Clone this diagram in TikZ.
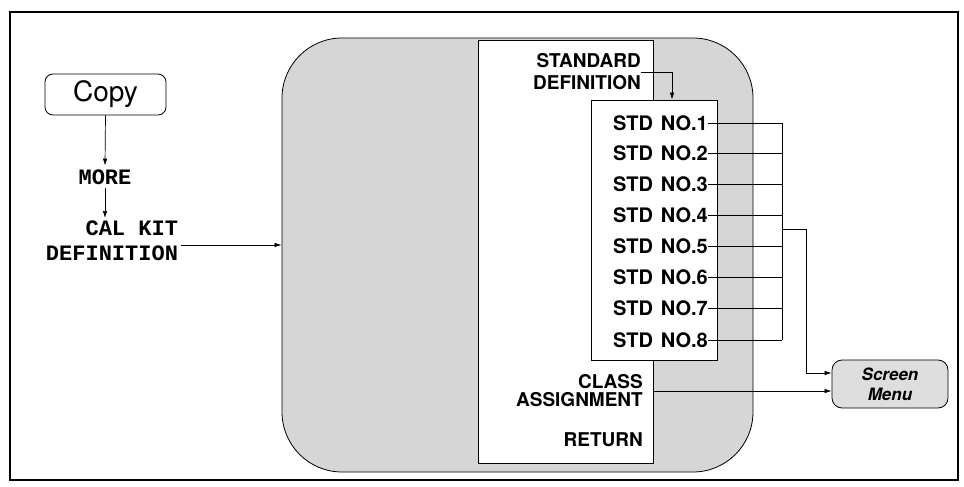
\documentclass[tikz,border=0pt]{standalone}
\usepackage{fontspec}
\setmainfont{TeX Gyre Heros}
\newfontfamily\monof{Liberation Mono}
\usetikzlibrary{arrows.meta}
\tikzset{
  frame/.style={draw, line width=1.2pt},
  graybox/.style={draw, fill=black!16, rounded corners=60pt, line width=0.8pt, inner sep=0pt},
  panelbox/.style={draw, fill=white, line width=0.8pt, inner sep=0pt},
  copybox/.style={draw, fill=white, rounded corners=8pt, line width=0.8pt, minimum width=121pt, minimum height=41pt, font=\fontsize{28}{30}\selectfont, inner sep=0pt},
  smbox/.style={draw, fill=black!13, rounded corners=10pt, line width=0.8pt, minimum width=116pt, minimum height=48pt, inner sep=0pt, align=center, font=\bfseries\itshape\fontsize{17}{20}\selectfont},
  lbl/.style={font=\bfseries\fontsize{19}{22}\selectfont, inner sep=0pt, align=right},
  stdlbl/.style={font=\bfseries\fontsize{20}{22}\selectfont, inner sep=0pt},
  mono/.style={font=\monof\bfseries\fontsize{22}{25}\selectfont, inner sep=0pt, align=right},
  conn/.style={draw, line width=0.7pt},
  arr/.style={conn, -{Latex[length=7pt,width=4.5pt]}}
}
\begin{document}
\begin{tikzpicture}[x=1pt,y=-1pt]
\useasboundingbox (0,0) rectangle (964,487);
\draw[frame] (10,12) rectangle (958,480);

% left chain
\node[copybox] (copy) at (105.5,94.5) {Copy};
\node[mono, outer sep=4pt] (more) at (105,177) {MORE};
\node[mono, anchor=east, outer sep=3pt] (cal) at (181,241) {CAL KIT\\DEFINITION};
\draw[arr] (copy.south) -- (more.north);
\draw[arr] (more.south) -- (more.south |- cal.north);

% big gray shape and panels
\node[graybox, minimum width=471pt, minimum height=434pt] (gray) at (517.5,255) {};
\draw[arr] ([yshift=-4pt]cal.east) -- ([yshift=-4pt]cal.east -| gray.west);
\node[panelbox, minimum width=175pt, minimum height=423pt] (panel) at (565.5,251.5) {};
\node[panelbox, minimum width=126pt, minimum height=260pt] (stdbox) at (654,230) {};

\node[lbl, anchor=east] (sd) at (641,72) {STANDARD\\DEFINITION};
\draw[arr] (sd.east) -- (672,0 |- sd.east) -- (672,0 |- stdbox.north);

\coordinate (busx) at (782,0);
\foreach \i/\y in {1/123,2/153,3/184,4/215,5/246,6/277,7/308,8/340}{
  \node[stdlbl, anchor=east] (s\i) at (708,\y) {STD\hspace{8pt}NO.\i};
  \draw[conn] (s\i.east) -- (s\i.east -| busx);
}
\draw[conn] (s1.east -| busx) -- (s8.east -| busx);

\node[lbl, anchor=east, font=\bfseries\fontsize{19}{18}\selectfont] (cls) at (643,391) {CLASS\\ASSIGNMENT};
\node[lbl, anchor=east] (ret) at (643,440) {RETURN};

% screen menu
\node[smbox] (sm) at (890,384) {Screen\\Menu};
\coordinate (tap) at (782,229);
\coordinate (smin) at ([yshift=11pt]sm.west);
\draw[arr] (tap) -- (806,229) -- (806,0 |- smin) -- (smin);
\draw[arr] (cls.east -| panel.east) -- (cls.east -| sm.west);
\end{tikzpicture}
\end{document}
